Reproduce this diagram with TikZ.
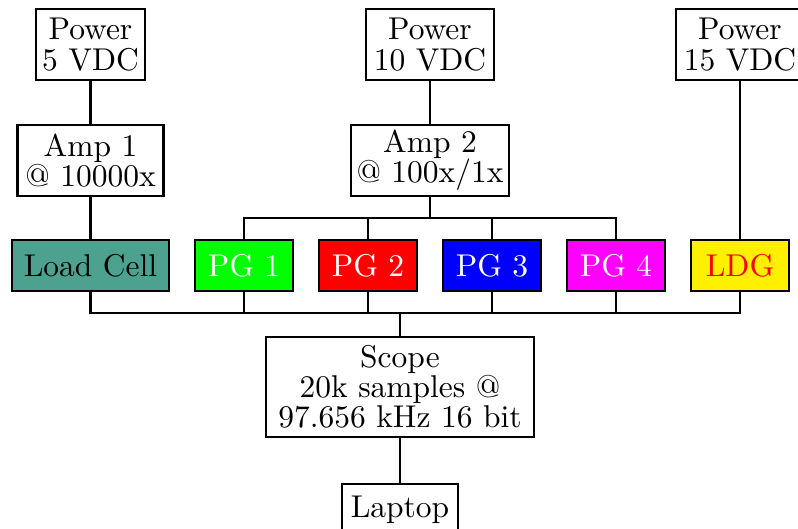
\documentclass[tikz,border=0pt]{standalone}
\definecolor{cellgreen}{RGB}{77,161,143}
\definecolor{pgmagenta}{RGB}{255,0,255}
\definecolor{ldgyellow}{RGB}{255,240,0}

\begin{document}
\begin{tikzpicture}[x=0.3175pt, y=-0.3175pt, line width=0.7pt,
  blk/.style={draw, inner sep=0pt, align=center, font=\fontsize{10}{9.6}\selectfont},
  tall/.style={blk, minimum height=22.5pt},
  flat/.style={blk, minimum height=16.2pt},
  pg/.style={flat, minimum width=31.1pt, text=white}]
	\useasboundingbox (0,0) rectangle (798,529);
	\clip (0,0) rectangle (798,529);
	\node[tall, minimum width=34.6pt] (pow5) at (90.5,44.5) {Power\\5 VDC};
	\node[tall, minimum width=40.6pt] (pow10) at (430,44.5) {Power\\10 VDC};
	\node[tall, minimum width=40.6pt] (pow15) at (740,44.5) {Power\\15 VDC};
	\node[tall, minimum width=46.4pt] (amp1) at (90.5,160.5) {Amp 1\\@ 10000x};
	\node[tall, minimum width=50.2pt] (amp2) at (430,160.5) {Amp 2\\@ 100x/1x};
	\node[flat, minimum width=49.8pt, fill=cellgreen] (cell) at (90.5,265.5) {Load Cell};
	\node[pg, fill=green] (pg1) at (244,265.5) {PG 1};
	\node[pg, fill=red] (pg2) at (368,265.5) {PG 2};
	\node[pg, fill=blue] (pg3) at (492,265.5) {PG 3};
	\node[pg, fill=pgmagenta] (pg4) at (616,265.5) {PG 4};
	\node[pg, fill=ldgyellow, text=red] (ldg) at (740,265.5) {LDG};
	\node[blk, minimum width=85.1pt, minimum height=31.75pt] (scope) at (400,387) {Scope\\20k samples @\\97.656 kHz 16 bit};
	\node[flat, minimum width=36.8pt] (laptop) at (400,509.5) {Laptop};
	\coordinate (topbus) at (0,218);
	\coordinate (botbus) at (0,313);
	\draw (pow5) -- (amp1) -- (cell);
	\draw (pow10) -- (amp2);
	\draw (pow15) -- (ldg);
	\foreach \n in {pg1,pg2,pg3,pg4}
	  \draw (amp2.south) |- (\n.north |- topbus) -- (\n.north);
	\foreach \n in {cell,pg1,pg2,pg3,pg4,ldg}
	  \draw (\n.south) |- (scope.north |- botbus) -- (scope.north);
	\draw (scope) -- (laptop);
\end{tikzpicture}
\end{document}
